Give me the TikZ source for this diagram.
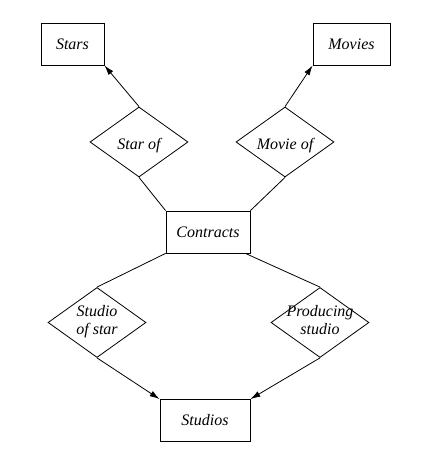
\documentclass[tikz,border=0pt]{standalone}
\usepackage{fontspec}
\setmainfont{Liberation Serif}
\usepackage{tikz}
\usetikzlibrary{arrows.meta,shapes.geometric}
\newcommand{\reltext}[2][-8pt]{\raisebox{#1}[0pt][0pt]{\makebox[0pt]{\begin{tabular}{@{}c@{}}#2\end{tabular}}}}

\begin{document}
\begin{tikzpicture}[x=1pt,y=-1pt,line width=0.8pt,
  every node/.style={font=\fontsize{16}{18}\selectfont\itshape},
  entity/.style={draw,rectangle,minimum height=42pt,inner sep=0pt},
  rel/.style={draw,diamond,minimum width=98pt,minimum height=70pt,inner sep=0pt},
  link/.style={},
  isa/.style={-{Latex[length=10pt,width=6pt]}}]
\useasboundingbox (0,0) rectangle (422,457);
\node[entity,minimum width=63pt] (stars) at (72.5,44) {Stars};
\node[entity,minimum width=77pt] (movies) at (351.5,44) {Movies};
\node[rel] (starof) at (139,142) {\reltext{Star of}};
\node[rel] (movieof) at (285,142) {\reltext{Movie of}};
\node[entity,minimum width=84pt] (contracts) at (208,232) {Contracts};
\node[rel] (studioof) at (97,322.5) {\reltext[-4pt]{Studio\\of star}};
\node[rel] (producing) at (320,322.5) {\reltext[-4pt]{Producing\\studio}};
\node[entity,minimum width=90pt] (studios) at (205,420.5) {Studios};

\draw[isa] (starof.north) -- (stars.south east);
\draw[isa] (movieof.north) -- (movies.south west);
\draw[link] (starof.south) -- (contracts.north west);
\draw[link] (movieof.south) -- (contracts.north east);
\draw[link] (contracts.south west) -- (studioof.north);
\draw[link] ([xshift=-5pt]contracts.south east) -- (producing.north);
\draw[isa] (studioof.south) -- (studios.north west);
\draw[isa] (producing.south) -- (studios.north east);
\end{tikzpicture}
\end{document}
